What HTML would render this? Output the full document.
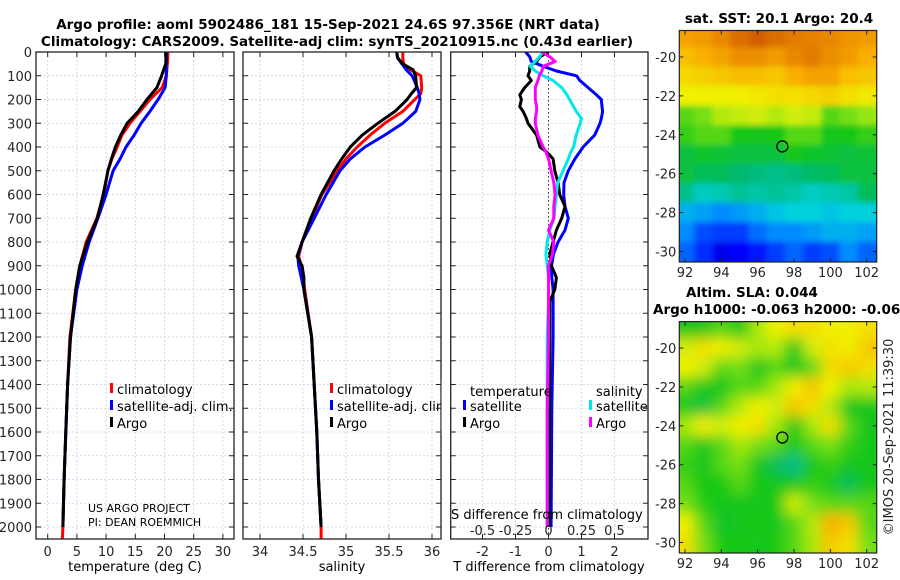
<!DOCTYPE html>
<html><head><meta charset="utf-8">
<style>
html,body{margin:0;padding:0;background:#fff;}
svg{display:block;font-family:"DejaVu Sans","Liberation Sans",sans-serif;}
.tk{font-size:13px;fill:#262626;}
.ti{font-size:13.5px;font-weight:bold;fill:#000;}
.lg{font-size:13px;fill:#000;}
</style></head>
<body>
<svg id="fig" width="900" height="580" viewBox="0 0 900 580">
<defs>
<clipPath id="c1"><rect x="36" y="52" width="198" height="487"/></clipPath>
<clipPath id="c2"><rect x="243" y="52" width="198" height="487"/></clipPath>
<clipPath id="c3"><rect x="450.7" y="52" width="197.3" height="487"/></clipPath>
<clipPath id="cm1"><rect x="679.3" y="30.5" width="197.4" height="231.5"/></clipPath>
<clipPath id="cm2"><rect x="679.3" y="321.6" width="197.4" height="231.4"/></clipPath>
<filter id="blur" x="-5%" y="-5%" width="110%" height="110%"><feGaussianBlur stdDeviation="7"/></filter>
<filter id="blur2" x="-5%" y="-5%" width="110%" height="110%"><feGaussianBlur stdDeviation="3"/></filter>
</defs>
<text class="ti" x="328" y="29" text-anchor="middle">Argo profile: aoml 5902486_181 15-Sep-2021 24.6S 97.356E (NRT data)</text>
<text class="ti" x="337" y="46" text-anchor="middle">Climatology: CARS2009. Satellite-adj clim: synTS_20210915.nc (0.43d earlier)</text>
<g id="g"></g>
</svg>
<script>
// ---- profile data ----
const tDepth = [0,50,100,150,200,250,300,350,400,450,500,600,700,800,900,1000,1200,1400,1600,1800,2000];
const tClim  = [20.6,20.5,20.3,19.6,17.5,15.8,14.1,12.7,11.9,11.0,10.3,9.6,8.4,6.6,5.5,4.8,3.8,3.4,3.1,2.8,2.6];
const tSat   = [20.3,20.3,20.3,20.1,18.9,17.5,16.0,14.8,13.4,12.4,11.2,10.0,8.6,7.1,5.9,5.0,3.9,3.4,3.1,2.8,2.6];
const tArgo  = [20.3,20.2,19.5,18.7,17.0,15.5,13.6,12.5,11.6,10.9,10.3,9.5,8.5,6.8,5.5,4.8,3.9,3.4,3.1,2.8,2.6];
const sDepth = [0,25,50,75,100,150,175,200,250,300,350,400,450,500,600,700,800,860,900,950,1000,1200,1400,1600,1800,2000];
const sClim  = [35.66,35.66,35.67,35.75,35.87,35.88,35.87,35.80,35.66,35.45,35.28,35.13,35.00,34.90,34.72,34.60,34.49,34.45,34.48,34.50,34.52,34.60,34.63,34.66,34.68,34.71];
const sSat   = [35.59,35.60,35.65,35.70,35.77,35.83,35.85,35.86,35.81,35.66,35.45,35.22,35.05,34.93,34.77,34.63,34.49,34.44,34.45,34.48,34.51,34.60,34.63,34.66,34.68,34.71];
const sArgo  = [35.59,35.60,35.66,35.78,35.81,35.82,35.76,35.71,35.57,35.37,35.19,35.05,34.95,34.86,34.71,34.59,34.49,34.43,34.49,34.51,34.51,34.60,34.63,34.66,34.68,34.71];
const dDepth = [0,20,40,60,80,100,120,150,180,200,230,250,280,300,350,400,420,450,500,550,600,650,700,750,800,850,900,950,1000,1050,1200,1500,2000];
const dTSat  = [-0.69,-0.57,-0.52,-0.16,0.24,0.85,0.95,1.2,1.45,1.6,1.62,1.64,1.6,1.56,1.4,1.05,0.95,0.8,0.6,0.47,0.46,0.5,0.6,0.5,0.29,0.15,0.09,0.1,0.14,0.14,0.14,0.1,0.08];
const dTArgo = [0,-0.26,-0.36,-0.57,-0.57,-0.62,-0.52,-0.72,-0.87,-0.82,-0.87,-0.77,-0.67,-0.62,-0.36,-0.26,-0.06,0.14,0.19,0.29,0.34,0.5,0.4,0.24,0.14,0.04,0.09,0.24,0.19,0.04,0.04,0.03,0.02];
const dSSat  = [-0.04,-0.07,-0.10,-0.14,-0.10,-0.04,0.035,0.10,0.14,0.16,0.19,0.21,0.25,0.24,0.21,0.19,0.17,0.15,0.11,0.07,0.06,0.05,0.04,0.01,-0.01,-0.02,-0.01,0.0,0.0,0.0,-0.01,-0.01,-0.01];
const dSArgo = [-0.05,0.01,0.05,-0.04,-0.05,-0.07,-0.08,-0.10,-0.10,-0.10,-0.09,-0.09,-0.10,-0.10,-0.08,-0.04,-0.02,0.0,0.02,0.04,0.05,0.04,0.04,0.0,0.04,0.03,0.0,0.0,0.0,0.0,0.0,-0.01,-0.01];
const depthTicks = [0,100,200,300,400,500,600,700,800,900,1000,1100,1200,1300,1400,1500,1600,1700,1800,1900,2000];
const tTicks = [0,5,10,15,20,25,30];
const sTicks = [34,34.5,35,35.5,36];
const sTickLabels = ["34","34.5","35","35.5","36"];
const dtTicks = [-2,-1,0,1,2];
const dsTicks = [-0.5,-0.25,0,0.25,0.5];
const dsTickLabels = ["-0.5","-0.25","0","0.25","0.5"];
// ---- map data (rows = lat -19..-30, cols = lon 92..102), colour index 0..1 ----
const sstGrid = [
[0.80,0.81,0.84,0.88,0.90,0.88,0.86,0.85,0.84,0.82,0.81],
[0.76,0.78,0.80,0.83,0.83,0.81,0.84,0.86,0.83,0.81,0.78],
[0.73,0.74,0.75,0.76,0.76,0.75,0.78,0.80,0.80,0.76,0.75],
[0.70,0.70,0.70,0.70,0.71,0.72,0.72,0.73,0.74,0.72,0.71],
[0.60,0.62,0.66,0.67,0.68,0.66,0.68,0.67,0.60,0.62,0.64],
[0.58,0.60,0.60,0.56,0.55,0.56,0.60,0.60,0.55,0.56,0.58],
[0.52,0.54,0.53,0.52,0.52,0.52,0.55,0.54,0.53,0.52,0.53],
[0.52,0.50,0.50,0.48,0.47,0.46,0.47,0.49,0.50,0.52,0.52],
[0.46,0.42,0.43,0.45,0.44,0.45,0.44,0.42,0.43,0.44,0.50],
[0.35,0.33,0.30,0.32,0.35,0.38,0.40,0.40,0.38,0.40,0.40],
[0.30,0.22,0.20,0.20,0.26,0.30,0.30,0.32,0.35,0.35,0.33],
[0.25,0.18,0.10,0.12,0.15,0.20,0.25,0.20,0.22,0.30,0.25]];
const slaGrid = [
[0.55,0.55,0.60,0.55,0.65,0.70,0.72,0.72,0.70,0.70,0.72],
[0.68,0.72,0.70,0.68,0.65,0.66,0.55,0.68,0.72,0.70,0.75],
[0.70,0.68,0.60,0.62,0.55,0.60,0.55,0.60,0.72,0.75,0.72],
[0.60,0.55,0.55,0.60,0.60,0.65,0.70,0.75,0.70,0.65,0.66],
[0.55,0.52,0.60,0.66,0.70,0.68,0.75,0.72,0.66,0.55,0.55],
[0.65,0.70,0.68,0.70,0.72,0.65,0.56,0.65,0.72,0.60,0.55],
[0.60,0.55,0.60,0.65,0.62,0.60,0.55,0.60,0.62,0.58,0.55],
[0.58,0.55,0.60,0.62,0.55,0.50,0.46,0.55,0.58,0.55,0.55],
[0.60,0.56,0.56,0.60,0.56,0.55,0.55,0.58,0.55,0.50,0.55],
[0.62,0.57,0.55,0.55,0.55,0.56,0.68,0.62,0.60,0.60,0.60],
[0.70,0.60,0.54,0.55,0.56,0.55,0.60,0.66,0.78,0.75,0.60],
[0.72,0.62,0.56,0.56,0.55,0.56,0.60,0.65,0.75,0.72,0.62]];
const gridLats = [-19,-20,-21,-22,-23,-24,-25,-26,-27,-28,-29,-30];
const gridLons = [92,93,94,95,96,97,98,99,100,101,102];
const latTicks = [-20,-22,-24,-26,-28,-30];
const lonTicks = [92,94,96,98,100,102];
const argoLon = 97.356, argoLat = -24.6;

const NS='http://www.w3.org/2000/svg';
const G=document.getElementById('g');
function mk(tag,attrs,parent,txt){const e=document.createElementNS(NS,tag);for(const k in attrs)e.setAttribute(k,attrs[k]);if(txt!==undefined)e.textContent=txt;(parent||G).appendChild(e);return e;}
const Y0=52, YB=539;
const yD = d => Y0 + d*(527-Y0)/2000;
const xT = v => 47.7 + v*29.2/5;
const xS = v => 260 + (v-34)*86;
const xDT = v => 548.5 + v*33;
const xDS = v => 548.5 + v*132;

function panel(name,x0,x1,clip){
  const g=mk('g',{});
  
  
  depthTicks.forEach(d=>{
    mk('line',{x1:x0,x2:x1,y1:yD(d),y2:yD(d),stroke:'#c8cde8','stroke-width':0.8,'stroke-dasharray':'2,2'},g);
    mk('line',{x1:x0,x2:x0+5,y1:yD(d),y2:yD(d),stroke:'#222'},g);
    mk('line',{x1:x1-5,x2:x1,y1:yD(d),y2:yD(d),stroke:'#222'},g);
  });
  return g;
}
function vgrid(g,xs,x0){xs.forEach(x=>{mk('line',{x1:x,x2:x,y1:Y0,y2:YB,stroke:'#c8cde8','stroke-width':0.8,'stroke-dasharray':'2,2'},g);mk('line',{x1:x,x2:x,y1:YB-5,y2:YB,stroke:'#222'},g);mk('line',{x1:x,x2:x,y1:Y0,y2:Y0+5,stroke:'#222'},g);});}
function line(g,name,xs,ds,xf,color,clip,w){
  const p=mk('polyline',{points:ds.map((d,i)=>xf(xs[i]).toFixed(1)+','+yD(d).toFixed(1)).join(' '),fill:'none',stroke:color,'stroke-width':w||3,'stroke-linejoin':'round','clip-path':'url(#'+clip+')'},g);
  
  
}
function frame(g,x0,x1){mk('rect',{x:x0,y:Y0,width:x1-x0,height:YB-Y0,fill:'none',stroke:'#222','stroke-width':1.3},g);}

// panel 1
const p1=panel('temperature-panel',36,234);
vgrid(p1,tTicks.map(xT));
depthTicks.forEach(d=>{const t=mk('text',{class:'tk',x:32,y:yD(d)+5,'text-anchor':'end'},p1,String(d));});
tTicks.forEach(v=>{const t=mk('text',{class:'tk',x:xT(v),y:556,'text-anchor':'middle'},p1,String(v));});
line(p1,'temperature-climatology-line',tClim.concat([2.5]),tDepth.concat([2060]),xT,'#f00','c1');
line(p1,'temperature-satellite-line',tSat,tDepth,xT,'#0000ff','c1');
line(p1,'temperature-argo-line',tArgo,tDepth,xT,'#000','c1');
frame(p1,36,234);
mk('text',{class:'lg',x:135,y:571,'text-anchor':'middle'},p1,'temperature (deg C)');
mk('text',{x:88,y:512,'font-size':11},p1,'US ARGO PROJECT');
mk('text',{x:88,y:526,'font-size':11},p1,'PI: DEAN ROEMMICH');

// panel 2
const p2=panel('salinity-panel',243,441);
vgrid(p2,sTicks.map(xS));
sTicks.forEach((v,i)=>{const t=mk('text',{class:'tk',x:xS(v),y:556,'text-anchor':'middle'},p2,sTickLabels[i]);});
line(p2,'salinity-climatology-line',sClim.concat([34.71]),sDepth.concat([2060]),xS,'#f00','c2');
line(p2,'salinity-satellite-line',sSat,sDepth,xS,'#0000ff','c2');
line(p2,'salinity-argo-line',sArgo,sDepth,xS,'#000','c2');
frame(p2,243,441);
mk('text',{class:'lg',x:342,y:571,'text-anchor':'middle'},p2,'salinity');

// legends
function legend(g,x,y,color,label,name){
  mk('rect',{x:x,y:y-9,width:3,height:10,fill:color},g);
  const t=mk('text',{class:'lg',x:x+7,y:y+2},g,label);
  
  
}
legend(p1,110,392,'#f00','climatology','legend-climatology');
legend(p1,110,409,'#0000ff','satellite-adj. clim.','legend-satellite-adj');
legend(p1,110,426,'#000','Argo','legend-argo');
legend(p2,330,392,'#f00','climatology','legend-climatology');
legend(p2,330,409,'#0000ff','satellite-adj. clim.','legend-satellite-adj');
legend(p2,330,426,'#000','Argo','legend-argo');

// panel 3
const p3=panel('difference-panel',450.7,648);
mk('rect',{x:441.5,y:380,width:8.5,height:55,fill:'#fff'},p3);
vgrid(p3,dtTicks.map(xDT));
mk('line',{x1:xDT(0),x2:xDT(0),y1:Y0,y2:YB,stroke:'#333','stroke-dasharray':'1.5,2.5','stroke-width':1},p3);
dtTicks.forEach(v=>{const t=mk('text',{class:'tk',x:xDT(v),y:556,'text-anchor':'middle'},p3,String(v));});
line(p3,'t-diff-satellite-line',dTSat,dDepth,xDT,'#0000ff','c3');
line(p3,'t-diff-argo-line',dTArgo,dDepth,xDT,'#000','c3');
line(p3,'s-diff-satellite-line',dSSat,dDepth,xDS,'#00e8e8','c3');
line(p3,'s-diff-argo-line',dSArgo,dDepth,xDS,'#ff00ff','c3');
frame(p3,450.7,648);
mk('text',{class:'lg',x:549,y:571,'text-anchor':'middle'},p3,'T difference from climatology');
mk('text',{class:'lg',x:451,y:519},p3,'S difference from climatology');
dsTicks.forEach((v,i)=>{const t=mk('text',{class:'tk',x:xDS(v),y:535,'text-anchor':'middle'},p3,dsTickLabels[i]);});
mk('text',{class:'lg',x:470,y:396},p3,'temperature');
mk('text',{class:'lg',x:596,y:396},p3,'salinity');
legend(p3,463,409,'#0000ff','satellite','legend-t-satellite');
legend(p3,463,426,'#000','Argo','legend-t-argo');
legend(p3,589,409,'#00e8e8','satellite','legend-s-satellite');
legend(p3,589,426,'#ff00ff','Argo','legend-s-argo');

// ---- maps ----
function jet(v){
  const stops=[[0,[0,0,130]],[0.12,[0,0,255]],[0.3,[0,140,255]],[0.4,[0,210,220]],[0.48,[0,185,110]],[0.56,[20,200,20]],[0.64,[150,230,20]],[0.7,[240,240,0]],[0.78,[250,175,0]],[0.88,[220,110,0]],[1,[150,30,0]]];
  v=Math.max(0,Math.min(1,v));
  for(let i=1;i<stops.length;i++){if(v<=stops[i][0]){const a=stops[i-1],b=stops[i];const f=(v-a[0])/(b[0]-a[0]);return 'rgb('+a[1].map((c,k)=>Math.round(c+(b[1][k]-c)*f)).join(',')+')';}}
  return 'rgb(150,30,0)';
}
const MX0=679.3, MX1=876.7;
const xL = lon => 685 + (lon-92)*18.17;
function map(name,top,bot,grid,clip,filt){
  const g=mk('g',{});
  
  
  const yL = lat => top + (-18.64-lat)*(bot-top)/11.9;
  const cg=mk('g',{'clip-path':'url(#'+clip+')'},g);
  const inner=mk('g',{filter:'url(#'+filt+')'},cg);
  grid.forEach((row,r)=>row.forEach((v,c)=>{
    const x=xL(gridLons[c]-0.5)-(c===0?20:0), w=18.17+(c===0?20:0)+(c===row.length-1?20:0);
    const y=yL(gridLats[r]+0.5)-(r===0?20:0), h=(bot-top)/11.9+(r===0?20:0)+(r===grid.length-1?20:0);
    const cell=mk('rect',{x:x.toFixed(1),y:y.toFixed(1),width:(w+0.6).toFixed(1),height:(h+0.6).toFixed(1),fill:jet(v)},inner);
    
    
  }));
  mk('rect',{x:MX0,y:top,width:MX1-MX0,height:bot-top,fill:'none',stroke:'#222','stroke-width':1.2},g);
  latTicks.forEach(l=>{const y=yL(l);mk('line',{x1:MX0,x2:MX0+4,y1:y,y2:y,stroke:'#222'},g);mk('line',{x1:MX1-4,x2:MX1,y1:y,y2:y,stroke:'#222'},g);
    const t=mk('text',{class:'tk',x:MX0-3,y:y+5,'text-anchor':'end'},g,String(l));});
  lonTicks.forEach(l=>{const x=xL(l);mk('line',{x1:x,x2:x,y1:bot-4,y2:bot,stroke:'#222'},g);mk('line',{x1:x,x2:x,y1:top,y2:top+4,stroke:'#222'},g);
    const t=mk('text',{class:'tk',x:x,y:bot+15,'text-anchor':'middle'},g,String(l));});
  const m=mk('circle',{cx:xL(argoLon),cy:yL(argoLat),r:5.5,fill:'none',stroke:'#000','stroke-width':1.3},g);
  
  
}
map('sst-map',30.5,262,sstGrid,'cm1','blur2');
map('sla-map',321.6,553,slaGrid,'cm2','blur');
mk('text',{class:'ti',x:779,y:23,'text-anchor':'middle'},G,'sat. SST: 20.1 Argo: 20.4');
mk('text',{class:'ti',x:686,y:297,'text-anchor':'start'},G,'Altim. SLA: 0.044');
mk('text',{class:'ti',x:653,y:314,'text-anchor':'start'},G,'Argo h1000: -0.063 h2000: -0.067');
mk('text',{class:'tk',x:0,y:0,'text-anchor':'middle',transform:'translate(893,437) rotate(-90)'},G,'©IMOS 20-Sep-2021 11:39:30');
</script>
</body></html>
